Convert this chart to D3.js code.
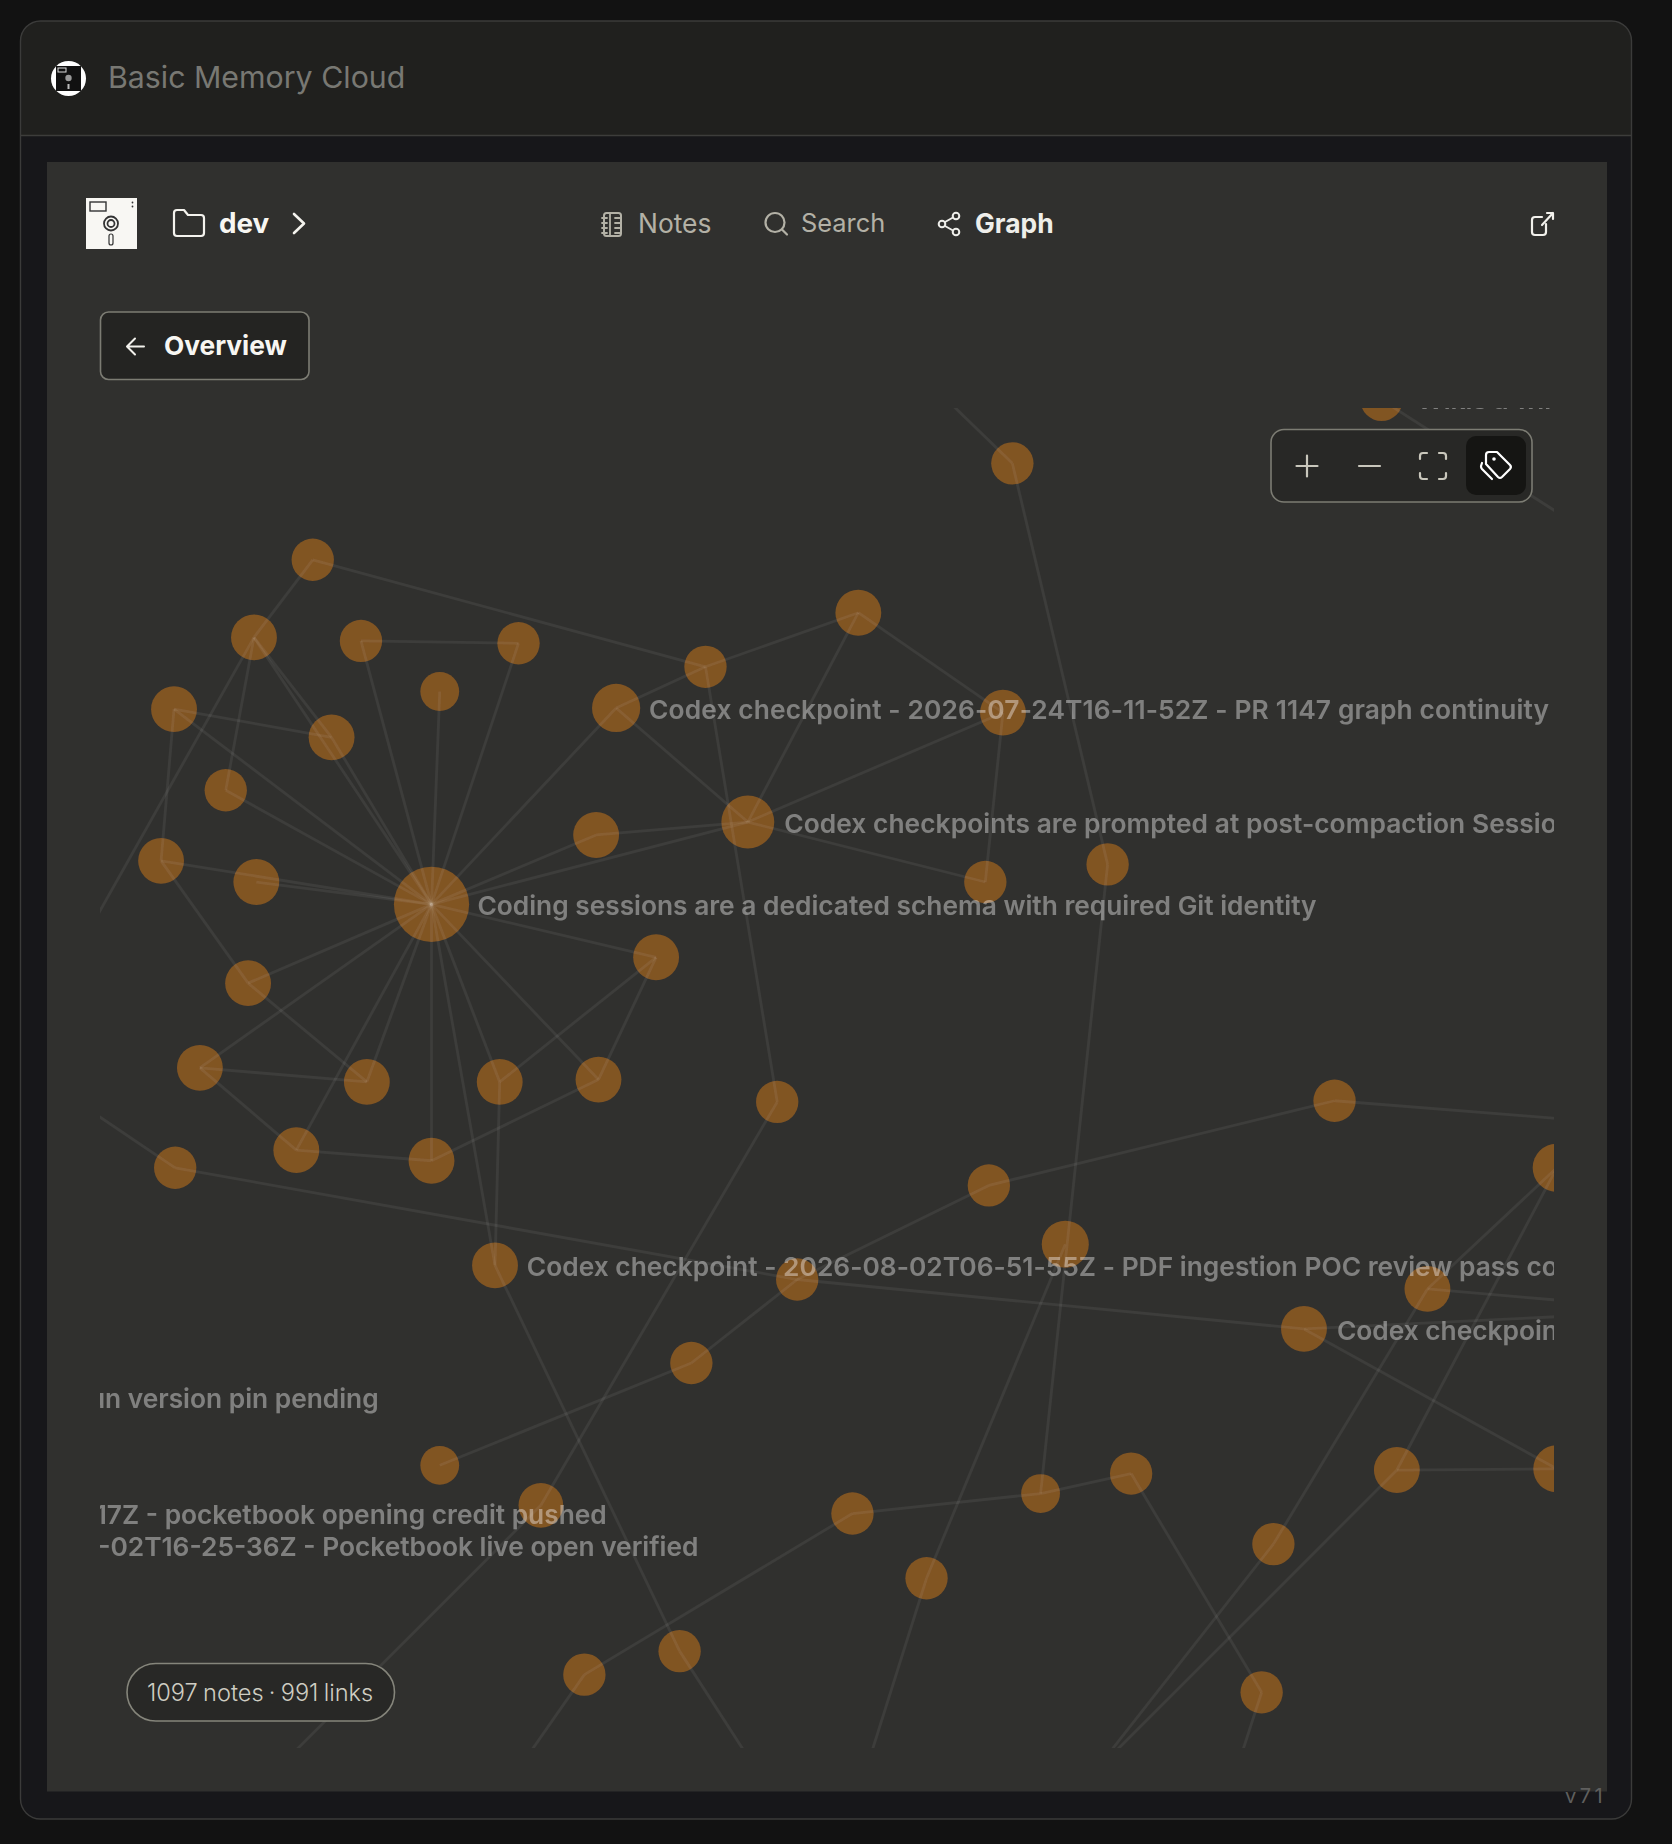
<![CDATA[<!DOCTYPE html>
<html><head><meta charset="utf-8">
<script src="https://cdn.jsdelivr.net/npm/d3@7"></script>
<style>html,body{margin:0;padding:0;background:#121212}svg{display:block}text{font-family:Inter,"Noto Sans",sans-serif}</style>
</head><body><div id="root"></div>
<script>
// Graph nodes, read from the picture
const nodeIds=["hub","a","b","c","d","e","f","g","h","i","j","k","l","m","n","o","p","q","r","s","t","u","v","w","x","y","z","aa","ab","ac","ad","ae","af","ag","ah","ai","aj","ak","al","am","an","ao","ap","aq","ar","as","at","au","av","aw","ax","ay"];
const nodeX=[367,266,216,307,441,374,148,282,192,137,218,211,170,312,425,509,558,252,367,149,421,507,524,600,636,730,853,838,942,861,1175,661,841,1135,1324,906,678,1214,1109,588,374,460,725,885,962,1188,1324,1083,788,578,497,1073];
const nodeY=[769,476,542,545,547,588,603,627,672,732,750,836,908,920,920,918,814,978,987,993,1076,710,602,567,699,521,606,750,735,394,340,937,1008,936,993,1058,1088,1096,1130,1159,1246,1280,1287,1270,1253,1250,1249,1313,1342,1404,1424,1439];
const nodeR=[32,18,19.5,18,18,16.5,19.5,19.5,18,19.5,19.5,19.5,19.5,19.5,19.5,19.5,19.5,19.5,19.5,18,19.5,19.5,20.5,18,22.5,19.5,19.5,18,18,18,18,18,18,18,20.5,20,18,19.5,19.5,18,16.5,19,18,16.5,18,19.5,20,18,18,18,18,18];
// Off-frame link ends (the links run out of the clipped viewport)
const exitIds=["x1","x2","x3","x4","x5","x6","x7","x8","x9","x10","x11","x12","x13","x14","x15"];
const exitX=[51,60,792,240,1400,735,640,437,1050,936,938,1400,1400,1400,1400];
const exitY=[835,933,327,1500,957,1510,1500,1510,1510,1500,1500,1112,1116,1130,484];
const linkPairs=[
"hub-b","hub-g","hub-f","hub-h","hub-i","hub-j","hub-c","hub-e","hub-d","hub-v","hub-u","hub-x","hub-p","hub-o","hub-n","hub-r","hub-m","hub-q","hub-k","hub-l","hub-t",
"a-b","a-w","c-d","f-g","f-i","b-g","b-h","b-x1","i-k","k-m","l-m","l-q","q-r","r-o","n-p","o-p","n-t",
"s-x2","s-aj","aj-al","t-aw","aw-x7","w-ae","v-w","w-y","v-x","u-x","x-y","x-z","x-aa","y-z","z-aa",
"ac-ab","ac-x3","ab-aq","ae-ao","ao-x4","af-ag","af-aj","ag-x5","aj-am","am-an","ai-av","av-x6","ap-aq","aq-ar","ap-ax","ax-x8","ar-ay","ay-x9",
"au-ak","au-x10","ak-ah","ak-x12","as-ah","as-x11","as-at","al-at","al-x13","ad-x15"];
// Labels
const labelTexts=["Coding sessions are a dedicated schema with required Git identity","Codex checkpoint - 2026-07-24T16-11-52Z - PR 1147 graph continuity","Codex checkpoints are prompted at post-compaction SessionStart","Codex checkpoint - 2026-08-02T06-51-55Z - PDF ingestion POC review pass complete","Codex checkpoint - 2026-08-01","Codex checkpoint - 2026-08-02 bun version pin pending","Codex checkpoint - 2026-08-02T15-40-17Z - pocketbook opening credit pushed","Codex checkpoint - 2026-08-02T16-25-36Z - Pocketbook live open verified","Wikis a wiki note"];
const labelX=[406,552,667,448,1137,322,516,594,1205];
const labelY=[770,603,700,1077,1131,1189,1288,1315,340];
const labelAnchor=["start","start","start","start","start","end","end","end","start"];
const labelSpacing=[0,.14,.07,.03,0,0,0,0,0];

const W=1672,H=1844;
const sx=d3.scaleLinear().domain([0,1422]).range([0,W]);
const sy=d3.scaleLinear().domain([0,1568]).range([0,H]);
const sr=d3.scaleLinear().domain([0,1422]).range([0,W]);

const svg=d3.select("#root").append("svg").attr("width",W).attr("height",H);
svg.append("rect").attr("width",W).attr("height",H).attr("fill","#121212");
const defs=svg.append("defs");
defs.append("clipPath").attr("id","view").append("rect").attr("x",100).attr("y",408).attr("width",1454).attr("height",1340);
defs.append("clipPath").attr("id","hdr").append("rect").attr("x",21).attr("y",21).attr("width",1610).attr("height",114);
defs.append("filter").attr("id","soft").attr("x","-5%").attr("y","-5%").attr("width","110%").attr("height","110%").append("feGaussianBlur").attr("stdDeviation",.55);

// card
svg.append("rect").attr("x",20.5).attr("y",21).attr("width",1611).attr("height",1798).attr("rx",20).attr("fill","#17171a");
svg.append("rect").attr("x",20.5).attr("y",21).attr("width",1611).attr("height",200).attr("rx",20).attr("fill","#20201e").attr("clip-path","url(#hdr)");
svg.append("rect").attr("x",20.5).attr("y",21).attr("width",1611).attr("height",1798).attr("rx",20).attr("fill","none").attr("stroke","#3b3b3a").attr("stroke-width",1.4);
svg.append("line").attr("x1",21).attr("x2",1631).attr("y1",135.5).attr("y2",135.5).attr("stroke","#3d3d3b").attr("stroke-width",1.4);
svg.append("rect").attr("x",47).attr("y",162).attr("width",1560).attr("height",1629.5).attr("fill","#30302e");

function txt(x,y,s,size,weight,fill){return svg.append("text").attr("x",x).attr("y",y).attr("dominant-baseline","central").attr("font-size",size).attr("font-weight",weight).attr("fill",fill).text(s);}
function path(d,stroke,w){return svg.append("path").attr("d",d).attr("fill","none").attr("stroke",stroke).attr("stroke-width",w).attr("stroke-linecap","round").attr("stroke-linejoin","round");}

// header
svg.append("circle").attr("cx",68.5).attr("cy",78.5).attr("r",17.5).attr("fill","#fff");
svg.append("rect").attr("x",56).attr("y",66).attr("width",25).attr("height",25).attr("fill","#111");
svg.append("rect").attr("x",58).attr("y",68).attr("width",8).attr("height",4).attr("fill","none").attr("stroke","#ddd").attr("stroke-width",1);
svg.append("circle").attr("cx",68.5).attr("cy",78).attr("r",3.2).attr("fill","#999");
svg.append("rect").attr("x",67.5).attr("y",84).attr("width",2).attr("height",5).attr("fill","#bbb");
txt(108,77,"Basic Memory Cloud",30.3,400,"#787873");

// nav floppy
svg.append("rect").attr("x",86).attr("y",198).attr("width",51).attr("height",51).attr("fill","#f8f7f3");
svg.append("rect").attr("x",90).attr("y",202).attr("width",16).attr("height",9).attr("fill","none").attr("stroke","#333").attr("stroke-width",1.4);
svg.append("circle").attr("cx",111).attr("cy",223.5).attr("r",7).attr("fill","none").attr("stroke","#333").attr("stroke-width",1.8);
svg.append("circle").attr("cx",111).attr("cy",223.5).attr("r",3.5).attr("fill","none").attr("stroke","#333").attr("stroke-width",1.8);
svg.append("rect").attr("x",109).attr("y",234).attr("width",4).attr("height",11).attr("rx",2).attr("fill","none").attr("stroke","#333").attr("stroke-width",1.2);
svg.append("circle").attr("cx",132.5).attr("cy",202.5).attr("r",.9).attr("fill","#333");
svg.append("circle").attr("cx",132.5).attr("cy",206.5).attr("r",.9).attr("fill","#333");

// breadcrumb
path("M174 213a3 3 0 0 1 3-3h7l4 5h13a3 3 0 0 1 3 3v15a3 3 0 0 1-3 3h-24a3 3 0 0 1-3-3z","#f4f3ee",2.2);
txt(219,223,"dev",27.8,700,"#f7f6f2");
path("M294 214l10 9.5l-10 9.5","#f4f3ee",2.6);

// nav
const navC="#b3b1a6";
svg.append("rect").attr("x",604).attr("y",213).attr("width",17).attr("height",23).attr("rx",2.5).attr("fill","none").attr("stroke",navC).attr("stroke-width",2);
path("M610 213v23M602 218h5M602 223h5M602 228h5M602 233h5M615 218h6M615 223h6M615 228h6M615 233h6",navC,1.8);
txt(638,222.5,"Notes",26.4,400,navC);
svg.append("circle").attr("cx",775).attr("cy",222.5).attr("r",9.5).attr("fill","none").attr("stroke",navC).attr("stroke-width",2.2);
path("M782 229.5l5 5",navC,2.2);
txt(801,222.5,"Search",25.4,400,navC);
[[956,216],[942,224],[956,232]].forEach(p=>svg.append("circle").attr("cx",p[0]).attr("cy",p[1]).attr("r",3.3).attr("fill","none").attr("stroke","#eeeeea").attr("stroke-width",2));
path("M945 222l8-4.5M945 226l8 4.5","#eeeeea",2);
txt(975,222.5,"Graph",26.4,700,"#eeeeea");
path("M1546 224v8a3 3 0 0 1-3 3h-8a3 3 0 0 1-3-3v-12a3 3 0 0 1 3-3h7M1542 225l11-12M1547 213h6v6","#f2f1ec",2.2);

// Overview button
svg.append("rect").attr("x",100.5).attr("y",312).attr("width",208.5).attr("height",67.5).attr("rx",8).attr("fill","#242422").attr("stroke","#7c7c73").attr("stroke-width",1.6);
path("M144 346.5h-16M135 338.5l-8 8l8 8","#f2f1ec",2);
txt(164,345.5,"Overview",26.3,700,"#f7f6f2");

// graph
const allIds=nodeIds.concat(exitIds);
const allX=nodeX.concat(exitX), allY=nodeY.concat(exitY);
const at=id=>allIds.indexOf(id);
const clip=svg.append("g").attr("clip-path","url(#view)");
const g=clip.append("g").attr("filter","url(#soft)");
g.selectAll("circle.node").data(nodeIds).join("circle").attr("class","node")
 .attr("cx",(d,i)=>sx(nodeX[i])).attr("cy",(d,i)=>sy(nodeY[i])).attr("r",(d,i)=>sr(nodeR[i])).attr("fill","#815424");
g.selectAll("line.link").data(linkPairs).join("line").attr("class","link")
 .each(function(d){const [s,t]=d.split("-");const a=at(s),b=at(t);
   d3.select(this).attr("x1",sx(allX[a])).attr("y1",sy(allY[a])).attr("x2",sx(allX[b])).attr("y2",sy(allY[b]));})
 .attr("stroke","#fff").attr("stroke-opacity",.062).attr("stroke-width",2.8);
g.selectAll("text.label").data(labelTexts).join("text").attr("class","label")
 .attr("x",(d,i)=>sx(labelX[i])).attr("y",(d,i)=>sy(labelY[i])).attr("dominant-baseline","central")
 .attr("text-anchor",(d,i)=>labelAnchor[i]).attr("font-size",26.3).attr("font-weight",600)
 .attr("letter-spacing",(d,i)=>labelSpacing[i])
 .attr("fill","#fff").attr("fill-opacity",.39).text(d=>d);

// zoom controls
svg.append("rect").attr("x",1271).attr("y",429.5).attr("width",261).attr("height",72.5).attr("rx",13).attr("fill","#282826").attr("stroke","#7c7c73").attr("stroke-width",1.6);
svg.append("rect").attr("x",1466).attr("y",436).attr("width",60).attr("height",59).attr("rx",10).attr("fill","#151513");
path("M1307 455.5v21M1296.5 466h21","#c9c7bc",2.2);
path("M1359 466h21","#c9c7bc",2.2);
path("M1420 459v-3a3 3 0 0 1 3-3h4M1446 459v-3a3 3 0 0 0-3-3h-4M1420 473v3a3 3 0 0 0 3 3h4M1446 473v3a3 3 0 0 1-3 3h-4","#c9c7bc",2.2);
path("M1489 452h8l13 13a3 3 0 0 1 0 4l-8 8a3 3 0 0 1-4 0l-12-13v-9a3 3 0 0 1 3-3zM1482 463l-1 3a4 4 0 0 0 1 3l10 10","#fff",2.2);
svg.append("circle").attr("cx",1494).attr("cy",459).attr("r",1.8).attr("fill","#fff");

// counts pill
svg.append("rect").attr("x",127).attr("y",1663.5).attr("width",267.5).attr("height",57.5).attr("rx",28.7).attr("fill","#282826").attr("stroke","#85857b").attr("stroke-width",1.6);
txt(147,1692,"1097 notes · 991 links",23.6,300,"#cfcdc2").attr("word-spacing",-1.4);

// version
svg.append("text").attr("x",1565).attr("y",1796).attr("dominant-baseline","central").attr("font-family","'DejaVu Sans Mono',monospace").attr("font-size",20).attr("letter-spacing",3.5).attr("fill","#5f5f5e").text("v71");
</script></body></html>]]>
